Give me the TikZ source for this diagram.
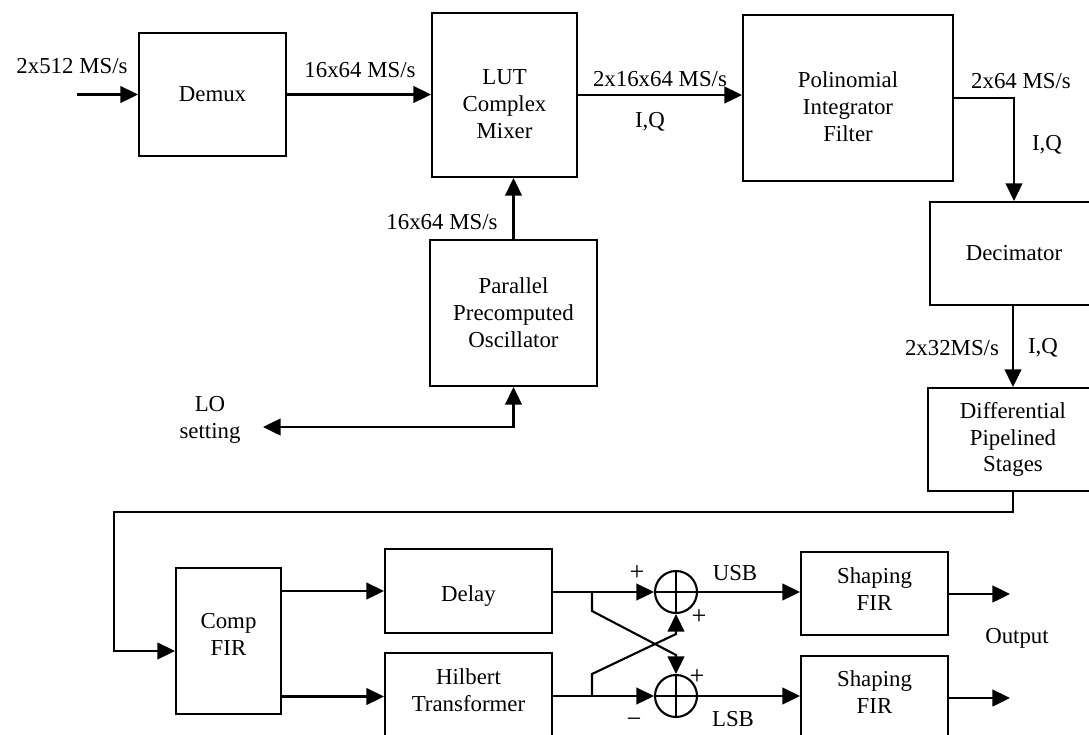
\documentclass[tikz,border=0pt]{standalone}
\usepackage{fontspec}
\setmainfont{Liberation Serif}
\usetikzlibrary{arrows.meta,calc}
\begin{document}
\begin{tikzpicture}[x=0.02cm,y=-0.02cm,
  font=\fontsize{13pt}{15.3pt}\selectfont,
  blk/.style={draw,line width=1.2pt,inner sep=0pt,align=center},
  txt/.style={align=center,inner sep=0pt},
  sgn/.style={inner sep=0pt,font=\fontsize{15pt}{16pt}\selectfont},
  ln/.style={line width=1.2pt},
  arr/.style={line width=1.2pt,-{Triangle[length=10pt,width=9.5pt]}},
  darr/.style={line width=1.2pt,{Triangle[length=10pt,width=9.5pt]}-{Triangle[length=10pt,width=9.5pt]}},
  sumnode/.style={draw,circle,line width=1.2pt,minimum size=0.84cm,inner sep=0pt}]
\useasboundingbox (0,0) rectangle (1089,734);

% ---- boxes ----
\node[blk,minimum width=2.94cm,minimum height=2.46cm] (demux) at (212.5,94.5) {Demux};
\node[blk,minimum width=2.90cm,minimum height=3.28cm] (lut) at (504.5,95) {};
\node[txt] (tlut) at (504.5,104) {LUT\\Complex\\Mixer};
\node[blk,minimum width=4.20cm,minimum height=3.32cm] (poly) at (848,98) {};
\node[txt] (tpoly) at (848,107) {Polinomial\\Integrator\\Filter};
\node[blk,minimum width=3.36cm,minimum height=2.06cm] (dec) at (1014,253.5) {Decimator};
\node[blk,minimum width=3.40cm,minimum height=2.06cm] (diff) at (1013,439.5) {Differential\\Pipelined\\Stages};
\node[blk,minimum width=3.34cm,minimum height=2.92cm] (osc) at (513.5,313) {Parallel\\Precomputed\\Oscillator};
\node[blk,minimum width=2.10cm,minimum height=2.92cm] (comp) at (228.5,641) {};
\node[txt] (tcomp) at (228.5,634) {Comp\\FIR};
\node[blk,minimum width=3.34cm,minimum height=1.68cm] (delay) at (468.5,591) {};
\node[txt] (tdelay) at (468.5,596) {Delay};
\node[blk,minimum width=3.34cm,minimum height=1.74cm] (hil) at (468.5,696.5) {};
\node[txt] (thil) at (468.5,690) {Hilbert\\Transformer};
\node[blk,minimum width=2.94cm,minimum height=1.66cm] (sh1) at (874.5,593.5) {};
\node[txt] (tsh1) at (874.5,589) {Shaping\\FIR};
\node[blk,minimum width=2.94cm,minimum height=1.68cm] (sh2) at (874.5,698) {};
\node[txt] (tsh2) at (874.5,692.5) {Shaping\\FIR};

% ---- summing junctions ----
\node[sumnode] (s1) at (676,592) {};
\node[sumnode] (s2) at (676,696) {};
\draw[ln] (s1.north) -- (s1.south) (s1.west) -- (s1.east);
\draw[ln] (s2.north) -- (s2.south) (s2.west) -- (s2.east);

% ---- labels ----
\node[txt] (lin) at (72,66) {2x512 MS/s};
\node[txt] (l16a) at (360,70) {16x64 MS/s};
\node[txt] (l2x16) at (660,79) {2x16x64 MS/s};
\node[txt] (liq1) at (650,122) {I,Q};
\node[txt] (l2x64) at (1021,81) {2x64 MS/s};
\node[txt] (liq2) at (1047,145) {I,Q};
\node[txt] (l16b) at (442,222) {16x64 MS/s};
\node[txt] (l2x32) at (952,348) {2x32MS/s};
\node[txt] (liq3) at (1043,348) {I,Q};
\node[txt] (llo) at (210,420) {LO\\setting};
\node[txt] (lusb) at (735,573) {USB};
\node[txt] (llsb) at (733,719) {LSB};
\node[txt] (lout) at (1017,638) {Output};
\node[sgn] (p1) at (637,573) {+};
\node[sgn] (p2) at (699,617) {+};
\node[sgn] (p3) at (697,677) {+};
\node[sgn] (m1) at (634,723) {−};

% ---- free ends ----
\coordinate (in) at (77,94.5);
\coordinate (lotip) at (263,427);
\coordinate (o1) at (1010,594);
\coordinate (o2) at (1010,698);
\coordinate (b1) at (592,592);
\coordinate (b2) at (592,696);

% ---- connectors ----
\draw[arr] (in) -- (demux.west);
\draw[arr] (demux.east) -- (lut.west |- demux.east);
\draw[arr] (lut.east) -- (poly.west |- lut.east);
\draw[arr] (poly.east) -| (dec.north);
\draw[arr] (dec.south -| diff.north) -- (diff.north);
\draw[arr] (osc.north) -- (osc.north |- lut.south);
\draw[darr] (lotip) -| (osc.south);
\draw[arr] (diff.south) |- (114,512) |- ($(comp.west)+(0,10)$);
\draw[arr] (comp.east |- delay.west) -- (delay.west);
\draw[arr] (comp.east |- hil.west) -- (hil.west);
\draw[arr] (delay.east |- s1.west) -- (s1.west);
\draw[arr] (hil.east |- s2.west) -- (s2.west);
\draw[arr] (b1) -- (592,611) -- (676,655) -- (s2.north);
\draw[arr] (b2) -- (592,674) -- (676,634) -- (s1.south);
\draw[arr] (s1.east) -- (sh1.west |- s1.east);
\draw[arr] (s2.east) -- (sh2.west |- s2.east);
\draw[arr] (sh1.east |- o1) -- (o1);
\draw[arr] (sh2.east |- o2) -- (o2);
\end{tikzpicture}
\end{document}
